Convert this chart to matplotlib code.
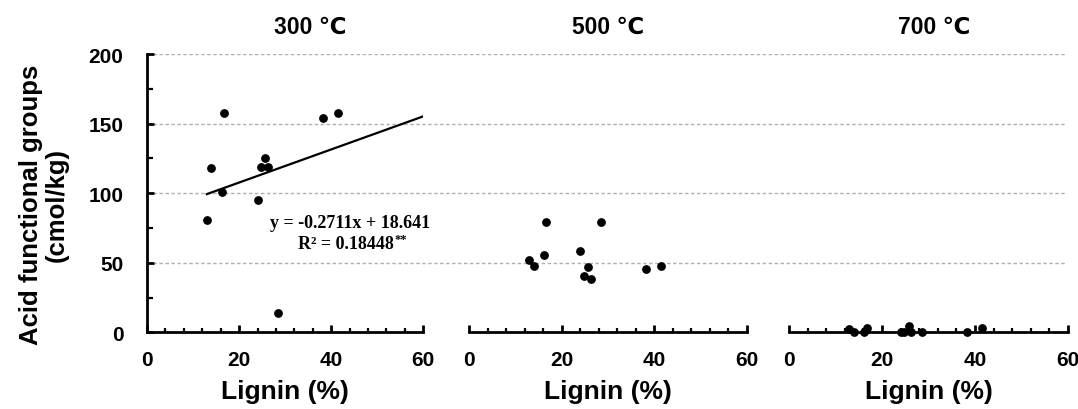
"""Acid functional groups vs lignin content for biochar at three temperatures."""

import matplotlib

matplotlib.use("Agg")
import matplotlib.pyplot as plt
from matplotlib.ticker import MultipleLocator

plt.rcParams["font.family"] = ["Liberation Sans", "DejaVu Sans"]
plt.rcParams["font.weight"] = "bold"

# data
temps = ["300 ℃", "500 ℃", "700 ℃"]
lignin = [13.0, 14.0, 16.2, 16.7, 24.0, 24.8, 25.7, 26.3, 28.5, 38.2, 41.4]
acid_300 = [81.0, 117.8, 100.5, 157.6, 95.2, 118.5, 125.2, 118.5, 13.9, 153.7, 157.6]
acid_500 = [51.6, 47.3, 55.9, 79.4, 58.5, 40.3, 46.9, 38.3, 79.4, 45.3, 47.3]
acid_700 = [2.4, 0.0, 0.0, 3.1, 0.0, 0.5, 4.8, 0.0, 0.0, 0.0, 3.1]
trend_x = [13.0, 60.0]
trend_y = [99.3, 155.2]
grid_levels = [50, 100, 150, 200]
eq_line1 = "y = -0.2711x + 18.641"
eq_line2 = "R² = 0.18448"

W, H = 1078, 410
fig = plt.figure(figsize=(W / 100, H / 100), dpi=100)

bottom = 1 - 333.3 / H
height = (333.3 - 55) / H
lefts = [147, 469, 789]
widths = [276.3, 278, 279]

# shared dashed gridlines running across all three panels
bg = fig.add_axes([147 / W, bottom, (1067 - 147) / W, height])
bg.set_ylim(0, 200)
bg.set_xlim(0, 1)
bg.axis("off")
for lv in grid_levels:
    bg.axhline(lv, color="#b0b0b0", linestyle=(0, (2.5, 1.8)), linewidth=1.0)

series = [acid_300, acid_500, acid_700]
title_x = [0.59, 0.5, 0.52]
for i, (left, w, vals) in enumerate(zip(lefts, widths, series)):
    ax = fig.add_axes([left / W, bottom, w / W, height])
    ax.set_facecolor("none")
    ax.set_xlim(0, 60)
    ax.set_ylim(0, 200)
    for s in ("top", "right"):
        ax.spines[s].set_visible(False)
    ax.spines["bottom"].set_linewidth(2.0)
    ax.xaxis.set_major_locator(MultipleLocator(20))
    ax.xaxis.set_minor_locator(MultipleLocator(4))
    ax.tick_params(axis="x", which="major", direction="in", length=5, width=2.0,
                   labelsize=15, pad=13)
    ax.tick_params(axis="x", which="minor", direction="in", length=3, width=1.6)
    if i == 0:
        ax.spines["left"].set_linewidth(2.0)
        ax.yaxis.set_major_locator(MultipleLocator(50))
        ax.yaxis.set_minor_locator(MultipleLocator(25))
        ax.tick_params(axis="y", which="major", direction="in", length=5, width=2.0,
                       labelsize=15, pad=17)
        ax.tick_params(axis="y", which="minor", direction="in", length=4, width=1.6)
        ax.set_ylabel("Acid functional groups\n(cmol/kg)", fontsize=18.5,
                      fontweight="bold", linespacing=1.05)
        ax.yaxis.set_label_coords(-0.285, 0.46)
    else:
        ax.spines["left"].set_visible(False)
        ax.tick_params(axis="y", which="both", left=False, labelleft=False)

    ax.scatter(lignin, vals, s=28, color="black", zorder=3, clip_on=False)
    ax.set_xlabel("Lignin (%)", fontsize=19, fontweight="bold", labelpad=7)
    ax.text(title_x[i], 1.1, temps[i], transform=ax.transAxes, ha="center",
            va="center", fontsize=16.5, fontweight="bold")

    if i == 0:
        ax.plot(trend_x, trend_y, color="black", linewidth=1.6, zorder=2)
        ax.text(44.1, 79, eq_line1, ha="center", va="center", fontsize=13,
                family="Liberation Serif", fontweight="bold")
        ax.text(43.2, 64, eq_line2, ha="center", va="center", fontsize=13,
                family="Liberation Serif", fontweight="bold")
        ax.text(53.7, 67, "**", ha="left", va="center", fontsize=9,
                family="Liberation Serif", fontweight="bold")

fig.savefig("out.png", dpi=100)
